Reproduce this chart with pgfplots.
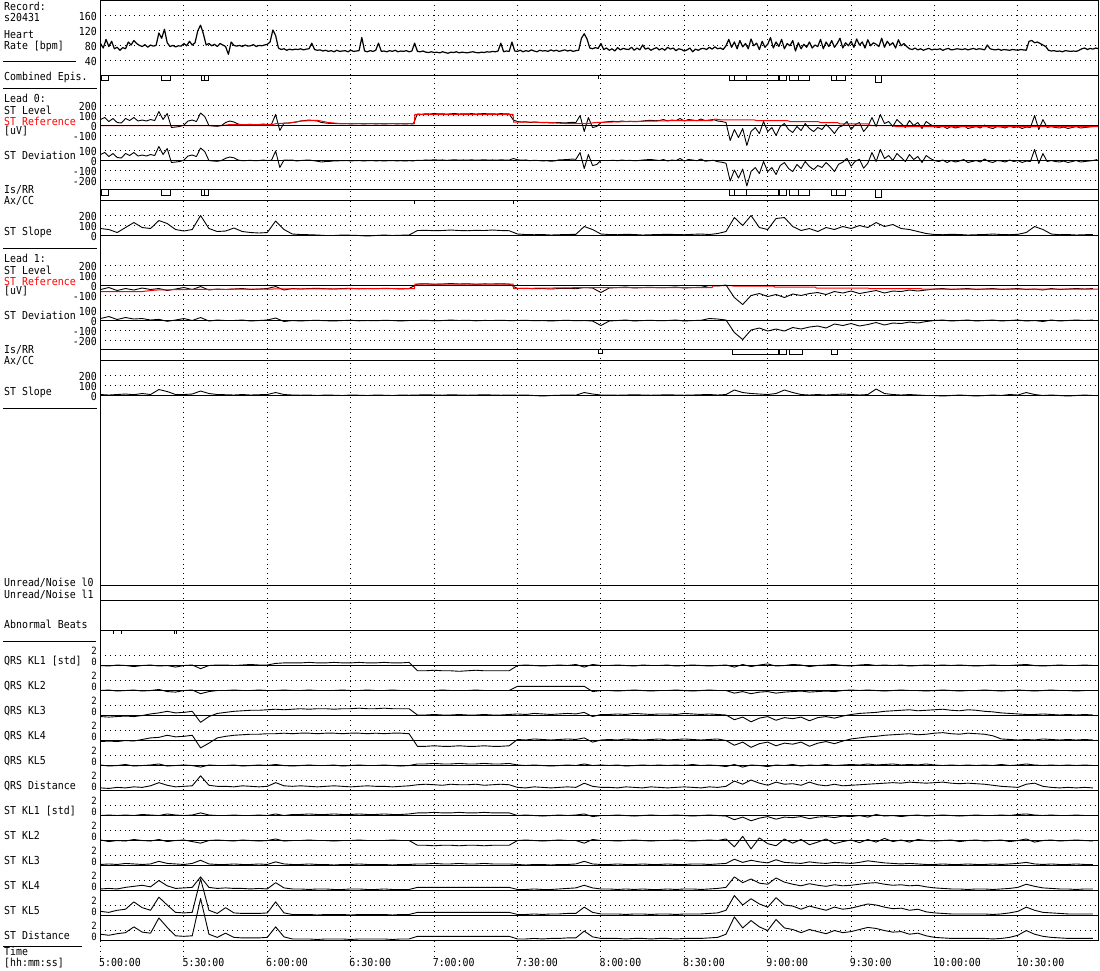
\documentclass[border=0pt]{standalone}
\usepackage{pgfplots}
\usepackage{pgfplotstable}
\pgfplotsset{compat=1.18}
\usepackage{fontspec}
\setmainfont{DejaVu Sans Mono}[FakeStretch=0.9]

% Heart rate, one value per minute from 5:00:00
\pgfplotstableread[row sep=\\]{v\\
84\\72\\95\\76\\90\\70\\74\\66\\73\\70\\
88\\80\\92\\84\\79\\76\\81\\74\\80\\77\\
79\\112\\98\\122\\86\\76\\79\\75\\78\\77\\
84\\78\\90\\80\\86\\118\\133\\110\\80\\84\\
78\\82\\76\\84\\80\\76\\55\\88\\79\\77\\
79\\76\\80\\77\\78\\81\\76\\79\\78\\80\\
82\\88\\120\\105\\72\\68\\70\\66\\69\\67\\
69\\68\\70\\67\\69\\70\\85\\68\\66\\67\\
64\\66\\63\\65\\62\\66\\63\\64\\65\\62\\
66\\63\\64\\65\\100\\64\\62\\65\\63\\66\\
85\\63\\64\\62\\65\\63\\66\\62\\64\\63\\
65\\62\\64\\85\\63\\62\\64\\61\\60\\62\\
60\\61\\59\\62\\60\\58\\61\\60\\62\\59\\
61\\60\\59\\61\\62\\60\\59\\61\\60\\62\\
61\\63\\62\\64\\85\\62\\64\\63\\88\\64\\
63\\66\\62\\65\\63\\67\\64\\62\\66\\64\\
65\\63\\67\\64\\66\\63\\65\\67\\64\\66\\
63\\65\\66\\98\\110\\96\\72\\70\\73\\71\\
84\\68\\72\\66\\70\\64\\73\\67\\71\\69\\
68\\74\\66\\72\\67\\80\\69\\72\\66\\70\\
73\\67\\71\\66\\74\\69\\72\\65\\70\\68\\
64\\67\\72\\62\\69\\66\\70\\71\\68\\74\\
69\\75\\70\\72\\68\\78\\95\\74\\88\\70\\
92\\75\\84\\70\\96\\78\\85\\68\\90\\74\\
82\\100\\72\\88\\76\\95\\70\\84\\78\\92\\
64\\86\\70\\82\\74\\88\\72\\80\\76\\95\\
70\\88\\76\\92\\74\\84\\98\\72\\86\\78\\
90\\74\\96\\80\\88\\72\\94\\78\\86\\82\\
76\\98\\74\\90\\80\\86\\72\\94\\78\\84\\
76\\70\\68\\72\\67\\70\\66\\69\\71\\67\\
69\\68\\70\\66\\69\\71\\67\\68\\70\\69\\
68\\70\\67\\69\\71\\68\\70\\69\\67\\80\\
70\\68\\67\\69\\66\\68\\67\\66\\68\\67\\
66\\68\\67\\66\\90\\92\\86\\88\\84\\80\\
76\\66\\64\\65\\63\\64\\62\\65\\64\\63\\
64\\63\\66\\70\\72\\68\\71\\69\\72\\70\\
}\tabHR

% Lead 0 ST level, every 1.5 min
\pgfplotstableread[row sep=\\]{v\\
60\\80\\40\\70\\30\\25\\70\\50\\80\\45\\
55\\45\\60\\50\\140\\60\\120\\-20\\-15\\-10\\
5\\45\\55\\40\\125\\90\\0\\-5\\-8\\0\\
30\\45\\35\\15\\8\\10\\12\\8\\10\\15\\
10\\12\\110\\-50\\25\\25\\30\\35\\45\\50\\
55\\50\\45\\30\\25\\20\\20\\18\\18\\20\\
16\\18\\20\\15\\18\\20\\16\\18\\15\\18\\
20\\16\\18\\15\\18\\16\\115\\112\\118\\115\\
120\\116\\118\\114\\117\\120\\115\\118\\116\\119\\
115\\117\\120\\116\\118\\115\\119\\117\\116\\55\\
40\\35\\38\\30\\35\\32\\28\\30\\25\\28\\
30\\26\\28\\32\\30\\100\\-60\\80\\-20\\-10\\
30\\35\\40\\42\\38\\45\\40\\42\\38\\40\\
45\\50\\52\\48\\50\\60\\45\\55\\50\\70\\
45\\60\\55\\48\\65\\50\\55\\60\\45\\40\\
30\\-150\\-40\\-120\\-30\\-200\\-60\\-20\\-80\\40\\
-60\\-20\\-100\\-10\\20\\-40\\-70\\-10\\-50\\20\\
-30\\-60\\-20\\-40\\10\\-30\\-80\\-20\\0\\40\\
-40\\10\\30\\-60\\-10\\80\\-10\\110\\20\\40\\
-10\\60\\20\\-20\\50\\0\\30\\-30\\40\\10\\
-10\\-20\\-5\\-30\\-10\\-25\\-15\\0\\-30\\-20\\
-10\\-25\\5\\-20\\-30\\-10\\-15\\-25\\-5\\-20\\
-10\\-30\\-15\\-20\\100\\-40\\60\\-20\\-10\\-20\\
-25\\-15\\-30\\-20\\-10\\-25\\-20\\-15\\-10\\0\\
}\tabLzLev

% Lead 0 ST reference (time in min, uV)
\pgfplotstableread[row sep=\\]{t v\\
0 0\\44 0\\46 8\\62 10\\63 18\\68 25\\72 45\\78 52\\82 30\\86 20\\112.9 20\\113.1 112\\148.4 112\\148.6 35\\160 32\\168 18\\175 18\\178 30\\190 40\\200 45\\207 50\\220 50\\221 65\\223 57\\235 57\\236 50\\247 50\\248 40\\258 40\\259 30\\265 30\\266 17\\276 17\\277 0\\285 0\\286 -10\\359.1 -10\\
}\tabLzRef

% Lead 0 ST deviation, every 1.5 min
\pgfplotstableread[row sep=\\]{v\\
60\\80\\40\\70\\30\\25\\70\\50\\80\\45\\
55\\45\\60\\50\\140\\60\\120\\-20\\-15\\-10\\
5\\45\\55\\40\\125\\90\\0\\-5\\-8\\0\\
22\\35\\27\\5\\-2\\0\\2\\-2\\0\\5\\
0\\2\\95\\-70\\5\\3\\5\\-5\\0\\3\\
5\\-1\\-7\\-15\\-10\\-8\\-4\\-3\\-2\\0\\
-4\\-2\\0\\-5\\-2\\0\\-4\\-2\\-5\\-2\\
0\\-4\\-2\\-5\\-2\\-4\\3\\0\\6\\3\\
8\\4\\6\\2\\5\\8\\3\\6\\4\\7\\
3\\5\\8\\4\\6\\3\\7\\5\\4\\20\\
8\\3\\6\\-2\\3\\0\\-4\\-2\\-7\\-4\\
8\\8\\10\\14\\12\\80\\-80\\60\\-50\\-40\\
0\\0\\0\\2\\-2\\5\\0\\2\\-2\\0\\
5\\8\\10\\5\\0\\10\\-5\\5\\0\\20\\
-5\\10\\5\\-2\\15\\-7\\-2\\3\\-12\\-17\\
-27\\-205\\-95\\-175\\-85\\-255\\-110\\-70\\-130\\-10\\
-110\\-70\\-140\\-50\\-20\\-80\\-110\\-40\\-80\\-10\\
-60\\-90\\-50\\-70\\-20\\-60\\-110\\-37\\-17\\23\\
-57\\-7\\13\\-77\\-27\\80\\-10\\110\\20\\50\\
0\\70\\30\\-10\\60\\10\\40\\-20\\50\\20\\
0\\-10\\5\\-20\\0\\-15\\-5\\10\\-20\\-10\\
0\\-15\\15\\-10\\-20\\0\\-5\\-15\\5\\-10\\
0\\-20\\-5\\-10\\110\\-30\\70\\-10\\0\\-10\\
-15\\-5\\-20\\-10\\0\\-15\\-10\\-5\\0\\10\\
}\tabLzDev

% Lead 0 ST slope, every 3 min
\pgfplotstableread[row sep=\\]{v\\
70\\60\\30\\80\\130\\80\\70\\150\\120\\60\\
45\\60\\200\\70\\40\\45\\75\\40\\30\\25\\
30\\145\\60\\15\\10\\8\\5\\0\\0\\5\\
3\\0\\-5\\0\\5\\0\\3\\5\\50\\52\\
48\\50\\55\\50\\48\\52\\50\\55\\50\\48\\
15\\10\\8\\10\\5\\8\\10\\12\\90\\60\\
15\\10\\8\\12\\10\\5\\8\\10\\12\\10\\
8\\12\\15\\10\\20\\40\\180\\100\\200\\80\\
60\\170\\180\\90\\50\\70\\40\\80\\60\\90\\
70\\100\\80\\130\\90\\110\\70\\60\\40\\20\\
10\\8\\12\\10\\5\\8\\10\\15\\10\\8\\
12\\30\\90\\60\\15\\8\\10\\5\\8\\10\\
}\tabLzSlo

% Lead 1 ST level, every 3 min
\pgfplotstableread[row sep=\\]{v\\
-40\\-20\\-50\\-30\\-45\\-25\\-40\\-30\\-50\\-35\\
-20\\-40\\-10\\-45\\-35\\-40\\-35\\-30\\-40\\-35\\
-30\\-10\\-45\\-30\\-35\\-30\\-28\\-32\\-35\\-30\\
-28\\-33\\-30\\-32\\-28\\-30\\-35\\-30\\15\\18\\
12\\15\\20\\15\\18\\12\\16\\15\\18\\14\\
-30\\-28\\-32\\-30\\-35\\-30\\-28\\-32\\-20\\-25\\
-70\\-25\\-20\\-15\\-25\\-20\\-18\\-22\\-20\\-15\\
-25\\-20\\-18\\0\\-5\\5\\-120\\-190\\-100\\-80\\
-110\\-90\\-120\\-85\\-100\\-80\\-70\\-90\\-60\\-75\\
-55\\-80\\-65\\-50\\-75\\-55\\-60\\-45\\-55\\-45\\
-35\\-30\\-40\\-35\\-30\\-40\\-35\\-30\\-40\\-35\\
-30\\-40\\-35\\-45\\-30\\-40\\-35\\-30\\-35\\-30\\
}\tabLoLev

\pgfplotstableread[row sep=\\]{t v\\
0 -60\\15 -60\\20 -45\\30 -40\\60 -35\\112.9 -30\\113.1 15\\148.4 15\\148.6 -30\\176 -20\\220 -20\\220.5 0\\227 0\\227.5 -5\\242 -5\\242.5 -15\\257 -15\\257.5 -25\\276 -25\\276.5 -30\\295 -30\\295.5 -35\\359.1 -35\\
}\tabLoRef

\pgfplotstableread[row sep=\\]{v\\
20\\40\\10\\30\\15\\20\\5\\12\\-8\\5\\
20\\0\\30\\-5\\5\\0\\0\\5\\-5\\0\\
5\\25\\-10\\0\\-5\\0\\2\\-2\\-5\\0\\
2\\-3\\0\\-2\\2\\0\\-5\\0\\0\\3\\
-3\\0\\5\\0\\3\\-3\\1\\0\\3\\-1\\
0\\2\\-2\\0\\-5\\0\\2\\-2\\0\\-5\\
-50\\-5\\0\\5\\-5\\0\\2\\-2\\0\\5\\
-5\\0\\2\\20\\15\\5\\-120\\-190\\-95\\-75\\
-105\\-85\\-105\\-70\\-85\\-65\\-55\\-75\\-35\\-50\\
-30\\-55\\-40\\-20\\-45\\-25\\-30\\-15\\-25\\-10\\
0\\5\\-5\\0\\5\\-5\\0\\5\\-5\\0\\
5\\-5\\0\\-10\\5\\-5\\0\\5\\0\\5\\
}\tabLoDev

\pgfplotstableread[row sep=\\]{v\\
10\\5\\10\\15\\8\\20\\10\\60\\40\\10\\
10\\15\\45\\20\\10\\8\\5\\10\\5\\8\\
10\\30\\10\\5\\3\\5\\0\\5\\3\\0\\
5\\3\\0\\5\\3\\0\\5\\3\\5\\8\\
5\\3\\8\\5\\3\\5\\8\\5\\3\\5\\
3\\5\\0\\-5\\0\\3\\5\\3\\30\\15\\
5\\5\\3\\5\\8\\5\\3\\5\\8\\5\\
3\\5\\8\\10\\5\\10\\55\\30\\20\\15\\
10\\20\\55\\30\\10\\5\\10\\5\\10\\15\\
10\\5\\10\\65\\20\\10\\5\\10\\5\\0\\
0\\-5\\0\\5\\0\\-5\\0\\5\\0\\10\\
5\\30\\10\\0\\5\\0\\-5\\0\\5\\0\\
}\tabLoSlo

% KL series (std units), every 3 min
\pgfplotstableread[row sep=\\]{v\\
0\\-0.1\\0.1\\0\\-0.2\\0\\0.1\\-0.1\\0\\-0.3\\
0\\0.1\\-0.6\\0\\0.1\\0.1\\0\\0.1\\0.2\\0.1\\
0.1\\0.4\\0.5\\0.5\\0.5\\0.6\\0.5\\0.5\\0.6\\0.5\\
0.5\\0.6\\0.5\\0.5\\0.6\\0.5\\0.5\\0.6\\-1.0\\-1.0\\
-0.9\\-1.0\\-1.0\\-1.1\\-1.0\\-0.9\\-1.0\\-1.0\\-1.0\\-1.0\\
0\\0.1\\0\\-0.1\\0\\0.1\\0\\0.2\\-0.3\\0.2\\
0\\0\\0.1\\0\\-0.1\\0.1\\0\\0\\0.1\\-0.1\\
0\\0.1\\0\\-0.1\\0\\0.1\\-0.3\\0.2\\-0.2\\0.1\\
0.3\\-0.1\\0\\0.2\\0.1\\-0.2\\0\\0.1\\0.2\\0\\
-0.1\\0.1\\0.2\\0\\0.1\\0\\0.1\\-0.1\\0\\0.1\\
0\\0.1\\0\\0.1\\0\\-0.1\\0\\0.1\\0\\0\\
0.1\\0.2\\0\\-0.1\\0\\0.1\\0\\0\\0.1\\0\\
}\tabQa
\pgfplotstableread[row sep=\\]{v\\
0\\0.1\\-0.1\\0\\0.1\\-0.1\\0\\0.2\\-0.2\\-0.3\\
0\\0.1\\-0.6\\-0.2\\0\\0\\0.1\\0\\0\\0.1\\
0\\0\\0.1\\0\\0\\0.1\\0\\0\\0\\0.1\\
0\\0\\0.1\\0\\0\\0.1\\0\\0\\0\\0\\
0\\0.1\\0\\0\\0\\0.1\\0\\0\\0\\0\\
0.8\\0.8\\0.8\\0.8\\0.8\\0.8\\0.8\\0.8\\0.8\\-0.2\\
0\\0\\-0.1\\0\\0.1\\0\\-0.1\\0\\0\\0.1\\
0\\-0.1\\0\\0.1\\0\\0\\-0.5\\-0.2\\-0.6\\-0.3\\
-0.2\\-0.5\\-0.3\\-0.2\\-0.1\\-0.3\\-0.2\\-0.1\\-0.2\\0\\
0.1\\0\\0.1\\0\\-0.1\\0\\0.1\\0\\0\\-0.1\\
0\\0.1\\0\\-0.1\\0\\0\\0.1\\0\\-0.1\\0\\
0.1\\0\\-0.1\\0\\0.1\\0\\0\\-0.1\\0\\0\\
}\tabQb
\pgfplotstableread[row sep=\\]{v\\
-0.2\\-0.3\\-0.2\\-0.1\\-0.2\\0\\0.3\\0.5\\0.8\\0.5\\
0.6\\0.8\\-1.3\\-0.2\\0.4\\0.6\\0.8\\0.9\\1.0\\1.0\\
1.1\\1.2\\1.1\\1.2\\1.3\\1.2\\1.3\\1.3\\1.2\\1.3\\
1.3\\1.4\\1.3\\1.3\\1.4\\1.3\\1.3\\1.3\\0.1\\0.1\\
0.2\\0.1\\0.1\\0.2\\0.1\\0.1\\0.2\\0.1\\0.1\\0.2\\
0.3\\0.2\\0.4\\0.3\\0.2\\0.3\\0.4\\0.3\\0.6\\-0.2\\
0.2\\0.2\\0.3\\0.2\\0.4\\0.3\\0.2\\0.3\\0.3\\0.2\\
0.4\\0.3\\0.2\\0.3\\0.2\\0.1\\-0.8\\-0.3\\-1.2\\-0.5\\
-0.2\\-0.9\\-0.4\\-0.6\\-0.3\\-1.0\\-0.4\\-0.2\\-0.5\\-0.1\\
0.2\\0.4\\0.5\\0.6\\0.8\\0.9\\1.0\\1.1\\0.9\\1.0\\
1.1\\1.2\\1.0\\0.9\\1.1\\1.0\\0.8\\0.7\\0.5\\0.4\\
0.3\\0.2\\0.2\\0.3\\0.2\\0.1\\0.2\\0.1\\0.2\\0.1\\
}\tabQc
\pgfplotstableread[row sep=\\]{v\\
-0.2\\-0.1\\-0.2\\0\\-0.1\\0.2\\0.5\\0.6\\1.0\\0.7\\
0.8\\1.0\\-1.4\\-0.5\\0.5\\0.8\\1.0\\1.1\\1.2\\1.2\\
1.3\\1.3\\1.4\\1.3\\1.4\\1.4\\1.3\\1.4\\1.4\\1.3\\
1.4\\1.4\\1.3\\1.4\\1.3\\1.4\\1.4\\1.3\\-1.1\\-1.1\\
-1.0\\-1.1\\-1.1\\-1.0\\-1.1\\-1.1\\-1.0\\-1.1\\-1.1\\-1.0\\
0.2\\0.1\\0.3\\0.2\\0.1\\0.2\\0.3\\0.2\\0.5\\-0.3\\
0.1\\0.2\\0.1\\0.3\\0.2\\0.1\\0.2\\0.3\\0.1\\0.2\\
0.3\\0.2\\0.1\\0.2\\0.3\\0\\-0.9\\-0.3\\-1.3\\-0.6\\
-0.3\\-1.0\\-0.5\\-0.7\\-0.3\\-1.1\\-0.5\\-0.2\\-0.6\\-0.1\\
0.3\\0.5\\0.7\\0.8\\1.0\\1.1\\1.2\\1.3\\1.1\\1.2\\
1.4\\1.5\\1.3\\1.2\\1.4\\1.3\\1.2\\0.9\\0.3\\0.2\\
0.1\\0.2\\0.1\\0.3\\0.2\\0.1\\0.2\\0.1\\0.2\\0.1\\
}\tabQd
\pgfplotstableread[row sep=\\]{v\\
0.1\\-0.1\\0\\0.2\\-0.1\\0\\0.1\\0.3\\-0.1\\0\\
0.1\\0\\-0.3\\0.1\\0\\0\\0.1\\-0.1\\0\\0.1\\
0\\0.2\\0\\-0.1\\0\\0.1\\0\\0\\0.1\\-0.1\\
0\\0.1\\0\\0\\0.1\\0\\-0.1\\0\\0.3\\0.3\\
0.4\\0.3\\0.3\\0.4\\0.3\\0.3\\0.4\\0.3\\0.3\\0.4\\
0.1\\0\\0.1\\0\\-0.1\\0\\0.1\\0\\0.3\\0\\
0.1\\0\\0.1\\-0.1\\0\\0.1\\0\\0.1\\0\\0.1\\
0\\0.2\\0\\0.1\\0\\-0.2\\0.2\\-0.3\\0.1\\0\\
-0.2\\0.1\\0\\0.2\\-0.1\\0.1\\0\\0.2\\0\\0.1\\
0.2\\0.1\\0.3\\0.1\\0.2\\0.3\\0.1\\0.2\\0.1\\0.3\\
0.1\\0\\0.1\\0\\0.1\\0\\0.1\\0\\0.2\\0\\
0.1\\0.3\\0.1\\0\\0.1\\0\\0.1\\0\\0.1\\0\\
}\tabQe
\pgfplotstableread[row sep=\\]{v\\
0.5\\0.4\\0.6\\0.5\\0.7\\0.6\\0.9\\1.5\\1.0\\0.7\\
0.8\\0.9\\2.8\\1.0\\0.8\\0.8\\0.7\\0.9\\0.8\\0.7\\
0.8\\1.5\\0.9\\0.8\\0.9\\0.8\\0.7\\0.8\\0.9\\0.8\\
0.7\\0.8\\0.9\\0.8\\0.8\\0.7\\0.8\\0.9\\1.1\\1.2\\
1.1\\1.0\\1.2\\1.1\\1.1\\1.2\\1.0\\1.1\\1.2\\1.1\\
0.6\\0.5\\0.7\\0.6\\0.5\\0.6\\0.7\\0.6\\1.4\\0.8\\
0.6\\0.6\\0.5\\0.7\\0.6\\0.5\\0.7\\0.6\\0.5\\0.6\\
0.7\\0.6\\0.5\\0.7\\0.6\\0.8\\1.8\\1.2\\2.0\\1.4\\
1.0\\1.6\\1.2\\1.3\\1.0\\1.6\\1.1\\0.9\\1.2\\0.9\\
1.0\\1.1\\1.2\\1.3\\1.4\\1.5\\1.4\\1.6\\1.5\\1.4\\
1.5\\1.6\\1.4\\1.3\\1.4\\1.3\\1.2\\1.0\\0.8\\0.7\\
0.6\\1.2\\1.4\\0.8\\0.6\\0.5\\0.6\\0.5\\0.6\\0.5\\
}\tabQf
\pgfplotstableread[row sep=\\]{v\\
0\\0.1\\0\\0.1\\0\\0.2\\0.1\\0\\0.3\\0.1\\
0\\0.1\\0.5\\0.1\\0\\0\\0.1\\0\\0\\0.1\\
0\\0.3\\0\\0.2\\0.2\\0.3\\0.2\\0.2\\0.3\\0.2\\
0.2\\0.3\\0.2\\0.2\\0.3\\0.2\\0.2\\0.3\\0.5\\0.5\\
0.6\\0.5\\0.5\\0.6\\0.5\\0.5\\0.6\\0.5\\0.5\\0.5\\
0\\0.1\\0\\-0.1\\0\\0.1\\0\\0.1\\0.3\\-0.2\\
0\\0\\0.1\\0\\-0.1\\0\\0.1\\0\\0\\0.1\\
0\\-0.1\\0\\0.1\\0\\-0.1\\-0.8\\-0.3\\-1.0\\-0.5\\
-0.2\\-0.7\\-0.3\\-0.4\\-0.2\\-0.6\\-0.3\\-0.2\\-0.4\\-0.1\\
-0.2\\0\\-0.3\\0.2\\-0.1\\0\\-0.2\\0\\0.1\\-0.1\\
0\\0.1\\0\\-0.1\\0\\0.1\\0\\0\\0.1\\0\\
0.2\\0.3\\0.1\\0\\0.1\\0\\0\\0.1\\0\\0\\
}\tabSa
\pgfplotstableread[row sep=\\]{v\\
0.1\\-0.2\\0\\-0.1\\0.2\\0\\-0.1\\0.2\\-0.2\\0\\
0.1\\-0.2\\-0.5\\0\\0.1\\0\\-0.1\\0.1\\0\\-0.1\\
0\\0.3\\-0.1\\0\\0\\0.1\\0\\0\\-0.1\\0\\
0\\0.1\\0\\0\\0\\0.1\\0\\0\\-0.9\\-0.9\\
-1.0\\-0.9\\-0.9\\-1.0\\-0.9\\-0.9\\-1.0\\-0.9\\-0.9\\-0.9\\
0\\0.1\\0\\-0.1\\0\\0.1\\0\\0\\-0.5\\0.2\\
0\\0\\-0.1\\0\\0.1\\0\\-0.1\\0\\0\\0.1\\
0\\-0.1\\0\\0.1\\0\\0.3\\-1.2\\0.8\\-1.6\\0.5\\
-0.6\\-1.0\\0.3\\-0.5\\0.2\\-0.8\\-0.3\\0.3\\-0.6\\-0.2\\
0.1\\-0.4\\0.2\\-0.3\\0.4\\-0.2\\0.1\\-0.3\\0.2\\0\\
-0.1\\0\\0.1\\-0.2\\0\\0.1\\-0.1\\0\\0.1\\-0.2\\
0\\0.3\\-0.3\\0\\0.1\\-0.1\\0\\0.1\\0\\-0.1\\
}\tabSb
\pgfplotstableread[row sep=\\]{v\\
0.2\\0.3\\0.2\\0.4\\0.3\\0.2\\0.3\\0.8\\0.4\\0.3\\
0.2\\0.4\\1.0\\0.3\\0.2\\0.2\\0.3\\0.2\\0.2\\0.3\\
0.2\\0.7\\0.3\\0.2\\0.2\\0.3\\0.2\\0.2\\0.1\\0.2\\
0.2\\0.3\\0.2\\0.2\\0.2\\0.1\\0.2\\0.2\\0.3\\0.3\\
0.4\\0.3\\0.3\\0.4\\0.3\\0.3\\0.4\\0.3\\0.3\\0.3\\
0.2\\0.1\\0.2\\0.2\\0.1\\0.2\\0.2\\0.3\\0.8\\0.3\\
0.2\\0.2\\0.3\\0.2\\0.2\\0.3\\0.2\\0.2\\0.3\\0.2\\
0.2\\0.3\\0.3\\0.2\\0.3\\0.4\\1.2\\0.6\\1.0\\0.7\\
0.5\\1.1\\0.6\\0.5\\0.4\\0.7\\0.5\\0.4\\0.6\\0.5\\
0.4\\0.6\\0.9\\0.7\\0.5\\0.4\\0.3\\0.4\\0.3\\0.2\\
0.2\\0.3\\0.2\\0.2\\0.3\\0.2\\0.2\\0.3\\0.2\\0.3\\
0.4\\0.6\\0.3\\0.2\\0.3\\0.2\\0.2\\0.3\\0.2\\0.2\\
}\tabSc
\pgfplotstableread[row sep=\\]{v\\
0.3\\0.4\\0.3\\0.6\\0.8\\1.0\\0.7\\1.9\\0.9\\0.4\\
0.5\\0.6\\2.6\\0.6\\0.4\\0.5\\0.4\\0.4\\0.3\\0.4\\
0.3\\1.5\\0.5\\0.3\\0.3\\0.2\\0.3\\0.3\\0.2\\0.2\\
0.3\\0.3\\0.2\\0.2\\0.3\\0.2\\0.2\\0.2\\0.6\\0.6\\
0.6\\0.6\\0.6\\0.6\\0.6\\0.6\\0.6\\0.6\\0.6\\0.6\\
0.2\\0.2\\0.3\\0.2\\0.2\\0.3\\0.4\\0.5\\1.0\\0.5\\
0.3\\0.3\\0.2\\0.3\\0.2\\0.3\\0.2\\0.2\\0.3\\0.2\\
0.3\\0.3\\0.2\\0.3\\0.4\\0.6\\2.6\\1.5\\2.2\\1.4\\
1.2\\2.4\\1.6\\1.2\\0.9\\1.3\\1.0\\0.8\\1.1\\0.9\\
1.0\\1.2\\1.4\\1.5\\1.2\\1.0\\1.1\\0.9\\1.0\\0.7\\
0.5\\0.4\\0.3\\0.3\\0.2\\0.3\\0.3\\0.2\\0.3\\0.4\\
0.6\\1.2\\0.8\\0.5\\0.4\\0.3\\0.3\\0.2\\0.3\\0.3\\
}\tabSd
\pgfplotstableread[row sep=\\]{v\\
0.8\\0.6\\1.0\\1.2\\2.6\\1.5\\1.0\\3.5\\2.0\\0.6\\
0.5\\0.6\\7.0\\1.0\\0.4\\1.5\\0.5\\0.4\\0.4\\0.4\\
0.5\\2.6\\0.5\\0.2\\0.2\\0.2\\0.1\\0.2\\0.2\\0.2\\
0.1\\0.2\\0.2\\0.2\\0.2\\0.1\\0.2\\0.2\\0.6\\0.6\\
0.6\\0.6\\0.6\\0.6\\0.6\\0.6\\0.6\\0.6\\0.6\\0.6\\
0.2\\0.2\\0.3\\0.2\\0.3\\0.3\\0.4\\0.4\\1.6\\0.6\\
0.3\\0.3\\0.3\\0.2\\0.3\\0.3\\0.2\\0.3\\0.3\\0.2\\
0.3\\0.3\\0.3\\0.4\\0.5\\1.0\\3.8\\2.0\\3.2\\2.2\\
1.6\\3.4\\2.0\\1.8\\1.2\\1.8\\1.4\\1.0\\1.6\\1.2\\
1.4\\1.8\\2.2\\2.0\\1.6\\1.3\\1.4\\1.0\\1.2\\0.7\\
0.5\\0.4\\0.3\\0.3\\0.3\\0.3\\0.3\\0.2\\0.3\\0.5\\
0.8\\1.6\\1.0\\0.6\\0.5\\0.4\\0.3\\0.3\\0.3\\0.3\\
}\tabSe
\pgfplotstableread[row sep=\\]{v\\
1.2\\1.0\\1.3\\1.5\\2.6\\1.6\\1.4\\4.3\\2.5\\0.9\\
0.8\\0.9\\8.0\\1.2\\0.6\\1.4\\0.6\\0.5\\0.5\\0.5\\
0.6\\2.6\\0.7\\0.3\\0.3\\0.3\\0.2\\0.3\\0.3\\0.3\\
0.2\\0.3\\0.3\\0.3\\0.3\\0.2\\0.3\\0.3\\0.8\\0.8\\
0.8\\0.8\\0.8\\0.8\\0.8\\0.8\\0.8\\0.8\\0.8\\0.8\\
0.3\\0.3\\0.4\\0.3\\0.4\\0.4\\0.5\\0.5\\1.8\\0.7\\
0.4\\0.4\\0.4\\0.3\\0.4\\0.4\\0.3\\0.4\\0.4\\0.3\\
0.4\\0.4\\0.4\\0.5\\0.6\\1.2\\4.5\\2.4\\3.8\\2.6\\
1.9\\4.0\\2.4\\2.1\\1.5\\2.1\\1.7\\1.3\\1.9\\1.5\\
1.7\\2.1\\2.5\\2.3\\1.9\\1.6\\1.7\\1.2\\1.4\\0.9\\
0.6\\0.5\\0.4\\0.4\\0.4\\0.4\\0.4\\0.3\\0.4\\0.6\\
1.0\\1.9\\1.2\\0.8\\0.6\\0.5\\0.4\\0.4\\0.4\\0.4\\
}\tabSf

\pgfplotsset{tr/.style={black, line width=0.9pt, line join=round, mark=none}}
\newcommand{\klplot}[2]{\addplot[tr] table[x index=0, y index=0, x expr=\coordindex*3, y expr={#2-\thisrow{v}*5.25}] {#1};}

\begin{document}
\begin{tikzpicture}[font=\fontsize{11}{12}\selectfont, line cap=butt]
\begin{axis}[
  at={(100pt,0pt)}, anchor=north west,
  scale only axis, width=999pt, height=956pt,
  xmin=-0.18, xmax=359.17, ymin=0, ymax=956, y dir=reverse,
  axis line style={draw=none},
  major tick length=0pt,
  tick label style={font=\fontsize{11}{12}\selectfont},
  xtick={0,30,60,90,120,150,180,210,240,270,300,330},
  xticklabels={5:00:00,5:30:00,6:00:00,6:30:00,7:00:00,7:30:00,8:00:00,8:30:00,9:00:00,9:30:00,10:00:00,10:30:00},
  xticklabel pos=lower,
  xticklabel style={anchor=base west, inner sep=0pt, xshift=-1.5pt, yshift=-10pt},
  ytick={15,30,45,60,105.5,115.5,125.5,135.5,150.5,160.5,170.5,180.5,215.5,225.5,235.5,265.5,275.5,285.5,295.5,310.5,320.5,330.5,340.5,375.5,385.5,395.5},
  yticklabels={160,120,80,40,200,100,0,-100,100,0,-100,-200,200,100,0,200,100,0,-100,100,0,-100,-200,200,100,0},
  yticklabel style={anchor=east, inner sep=0pt, xshift=-3pt, yshift=-1pt},
  extra y ticks={655,665.5,680,690.5,705,715.5,730,740.5,755,765.5,780,790.5,805,815.5,830,840.5,855,865.5,880,890.5,905,915.5,930,940.5},
  extra y tick labels={2,0,2,0,2,0,2,0,2,0,2,0,2,0,2,0,2,0,2,0,2,0,2,0},
  extra y tick style={grid=major, yticklabel style={font=\fontsize{10}{10}\selectfont, anchor=base east, yshift=1.5pt}},
  xmajorgrids, ymajorgrids,
  grid style={black, line width=0.9pt, dash pattern=on 0.9pt off 4pt},
  unbounded coords=jump,
]
% heart rate
\addplot[tr, line width=1.2pt] table[x index=0, y index=0, x expr=\coordindex, y expr={60-(\thisrow{v}-40)*0.375}] {\tabHR};
% lead 0
\addplot[tr] table[x index=0, y index=0, x expr=\coordindex*1.5, y expr={125.5-\thisrow{v}*0.1}] {\tabLzLev};
\addplot[red, line width=1pt] table[x=t, y expr={125.5-\thisrow{v}*0.1}] {\tabLzRef};
\addplot[tr] table[x index=0, y index=0, x expr=\coordindex*1.5, y expr={160.5-\thisrow{v}*0.1}] {\tabLzDev};
\addplot[tr] table[x index=0, y index=0, x expr=\coordindex*3, y expr={235.5-\thisrow{v}*0.1}] {\tabLzSlo};
% lead 1
\addplot[tr] table[x index=0, y index=0, x expr=\coordindex*3, y expr={285.5-\thisrow{v}*0.1}] {\tabLoLev};
\addplot[red, line width=1pt] table[x=t, y expr={285.5-\thisrow{v}*0.1}] {\tabLoRef};
\addplot[tr] table[x index=0, y index=0, x expr=\coordindex*3, y expr={320.5-\thisrow{v}*0.1}] {\tabLoDev};
\addplot[tr] table[x index=0, y index=0, x expr=\coordindex*3, y expr={395.5-\thisrow{v}*0.1}] {\tabLoSlo};
% KL panels
\klplot{\tabQa}{665.5}
\klplot{\tabQb}{690.5}
\klplot{\tabQc}{715.5}
\klplot{\tabQd}{740.5}
\klplot{\tabQe}{765.5}
\klplot{\tabQf}{790.5}
\klplot{\tabSa}{815.5}
\klplot{\tabSb}{840.5}
\klplot{\tabSc}{865.5}
\klplot{\tabSd}{890.5}
\klplot{\tabSe}{915.5}
\klplot{\tabSf}{940.5}
% combined episodes
\addplot[black, line width=1pt] coordinates {
(0.2,75)(0.2,80.5)(2.7,80.5)(2.7,75)(nan,nan)
(21.8,75)(21.8,80.5)(25,80.5)(25,75)(nan,nan)
(36.2,75)(36.2,80.5)(38.7,80.5)(38.7,75)(nan,nan)(37.4,75)(37.4,80.5)(nan,nan)
(179,75)(179,79)(nan,nan)
(226.4,75)(226.4,80.5)(243.9,80.5)(243.9,75)(nan,nan)(228,75)(228,80.5)(nan,nan)(232.4,75)(232.4,80.5)(nan,nan)
(244.4,75)(244.4,80.5)(246.6,80.5)(246.6,75)(nan,nan)
(247.8,75)(247.8,80.5)(255,80.5)(255,75)(nan,nan)(251,75)(251,80.5)(nan,nan)
(263,75)(263,80.5)(268,80.5)(268,75)(nan,nan)(264.8,75)(264.8,80.5)(nan,nan)
(278.8,75)(278.8,82.5)(280.8,82.5)(280.8,75)};
% lead 0 Is/RR
\addplot[black, line width=1pt] coordinates {
(0.2,189.5)(0.2,195)(2.7,195)(2.7,189.5)(nan,nan)
(21.8,189.5)(21.8,195)(25,195)(25,189.5)(nan,nan)
(36.2,189.5)(36.2,195)(38.7,195)(38.7,189.5)(nan,nan)(37.4,189.5)(37.4,195)(nan,nan)
(226.4,189.5)(226.4,195)(243.9,195)(243.9,189.5)(nan,nan)(228,189.5)(228,195)(nan,nan)(232.4,189.5)(232.4,195)(nan,nan)
(244.4,189.5)(244.4,195)(246.6,195)(246.6,189.5)(nan,nan)
(247.8,189.5)(247.8,195)(255,195)(255,189.5)(nan,nan)(251,189.5)(251,195)(nan,nan)
(263,189.5)(263,195)(268,195)(268,189.5)(nan,nan)(264.8,189.5)(264.8,195)(nan,nan)
(278.8,189.5)(278.8,197)(280.8,197)(280.8,189.5)};
% lead 0 Ax/CC
\addplot[black, line width=1pt] coordinates {(112.9,200)(112.9,203.5)(nan,nan)(148.4,200)(148.4,203.5)};
% lead 1 Is/RR
\addplot[black, line width=1pt] coordinates {
(179,349.5)(179,353.5)(180.4,353.5)(180.4,349.5)(nan,nan)
(227.5,349.5)(227.5,354)(243.7,354)(243.7,349.5)(nan,nan)
(244.4,349.5)(244.4,354)(246.7,354)(246.7,349.5)(nan,nan)
(247.8,349.5)(247.8,354)(252.4,354)(252.4,349.5)(nan,nan)
(263,349.5)(263,354)(265,354)(265,349.5)};
% abnormal beats
\addplot[black, line width=1pt] coordinates {(4.5,630)(4.5,633.5)(nan,nan)(7.4,630)(7.4,633.5)(nan,nan)(26.6,630)(26.6,634)(nan,nan)(27.2,630)(27.2,634)};
\end{axis}

% frame and solid panel lines
\begin{scope}[line width=1pt]
\draw (100.5pt,-0.5pt) -- (100.5pt,-940.5pt);
\draw (1098.5pt,-0.5pt) -- (1098.5pt,-940.5pt);
\draw (100pt,-0.5pt) -- (1099pt,-0.5pt);
\foreach \yy in {75,125.5,160.5,189.5,200,235.5,285.5,320.5,349.5,360,395.5,585,600,630,665.5,690.5,715.5,740.5,765.5,790.5,815.5,840.5,865.5,890.5,915.5,940.5}
  \draw (100pt,-\yy pt) -- (1099pt,-\yy pt);
% label-column separators
\draw (3pt,-61pt) -- (76pt,-61pt);
\draw (3pt,-88pt) -- (97pt,-88pt);
\draw (3pt,-248pt) -- (97pt,-248pt);
\draw (3pt,-408pt) -- (97pt,-408pt);
\draw (3pt,-641pt) -- (96pt,-641pt);
\draw (3pt,-946pt) -- (82pt,-946pt);
\end{scope}

% left labels
\begin{scope}[every node/.style={anchor=base west, inner sep=0pt}]
\node at (4pt,-10pt) {Record:};
\node at (4pt,-21.5pt) {s20431};
\node at (4pt,-38pt) {Heart};
\node at (4pt,-49.5pt) {Rate [bpm]};
\node at (4pt,-80.5pt) {Combined Epis.};
\node at (4pt,-102pt) {Lead 0:};
\node at (4pt,-114pt) {ST Level};
\node[text=red] at (4pt,-125pt) {ST Reference};
\node at (4pt,-134.5pt) {[uV]};
\node at (4pt,-159pt) {ST Deviation};
\node at (4pt,-193pt) {Is/RR};
\node at (4pt,-204pt) {Ax/CC};
\node at (4pt,-235pt) {ST Slope};
\node at (4pt,-262pt) {Lead 1:};
\node at (4pt,-274pt) {ST Level};
\node[text=red] at (4pt,-285pt) {ST Reference};
\node at (4pt,-294.5pt) {[uV]};
\node at (4pt,-319pt) {ST Deviation};
\node at (4pt,-353pt) {Is/RR};
\node at (4pt,-364pt) {Ax/CC};
\node at (4pt,-395pt) {ST Slope};
\node at (4pt,-586pt) {Unread/Noise l0};
\node at (4pt,-598.5pt) {Unread/Noise l1};
\node at (4pt,-628.5pt) {Abnormal Beats};
\node at (4pt,-664.5pt) {QRS KL1 [std]};
\node at (4pt,-689.5pt) {QRS KL2};
\node at (4pt,-714.5pt) {QRS KL3};
\node at (4pt,-739.5pt) {QRS KL4};
\node at (4pt,-764.5pt) {QRS KL5};
\node at (4pt,-789.5pt) {QRS Distance};
\node at (4pt,-814.5pt) {ST KL1 [std]};
\node at (4pt,-839.5pt) {ST KL2};
\node at (4pt,-864.5pt) {ST KL3};
\node at (4pt,-889.5pt) {ST KL4};
\node at (4pt,-914.5pt) {ST KL5};
\node at (4pt,-939.5pt) {ST Distance};
\node at (4pt,-955pt) {Time};
\node at (4pt,-966pt) {[hh:mm:ss]};
\end{scope}

\pgfresetboundingbox
\path[use as bounding box] (0,0) rectangle (1100pt,-970pt);
\end{tikzpicture}
\end{document}
